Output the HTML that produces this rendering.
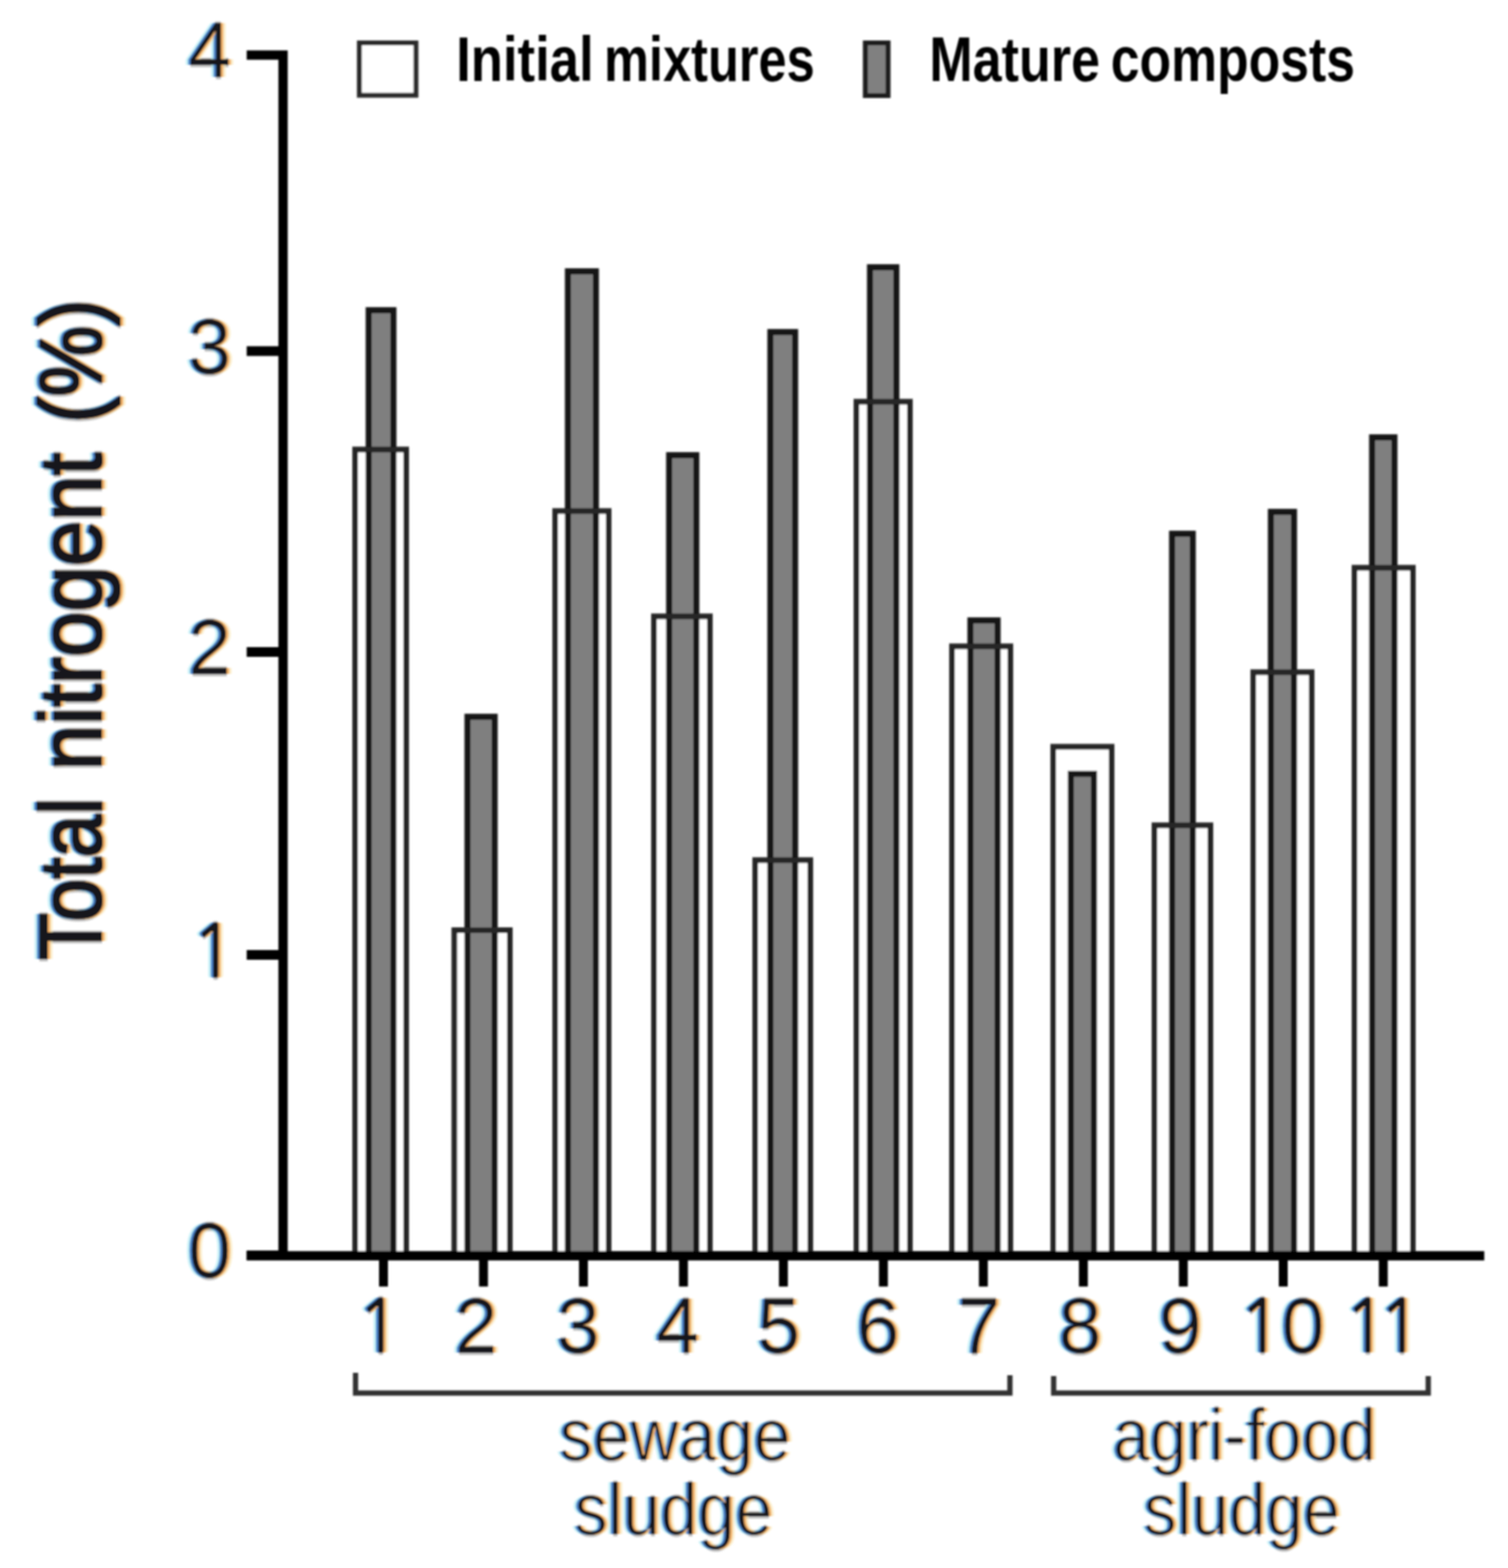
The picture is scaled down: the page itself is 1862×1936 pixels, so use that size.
<!DOCTYPE html>
<html><head><meta charset="utf-8"><title>Total nitrogen chart</title>
<style>
html,body{margin:0;padding:0;background:#fff;}
svg{display:block;}
text{font-family:"Liberation Sans",Arial,sans-serif;fill:#111;}
.tl{font-size:97px;}
.yt{font-size:109px;}
.lg{font-size:77px;font-weight:bold;fill:#000;}
.gl{font-size:91px;}
.n1{font-family:NanumGothic,"Liberation Sans",sans-serif;font-size:89px;stroke:#111;stroke-width:2.2px;}
</style></head>
<body>
<svg width="1862" height="1936" viewBox="0 0 1862 1936">
<defs>
<filter id="ct" x="0" y="0" width="1862" height="1936" filterUnits="userSpaceOnUse" color-interpolation-filters="sRGB">
<feMorphology in="SourceAlpha" operator="erode" radius="1" result="core"/>
<feOffset in="core" dx="-3" result="o1"/>
<feOffset in="core" dx="-6" result="o2"/>
<feOffset in="core" dx="3" result="o3"/>
<feOffset in="core" dx="6" result="o4"/>
<feOffset in="core" dy="-2.5" result="o5"/>
<feOffset in="core" dy="2.5" result="o6"/>
<feFlood flood-color="#9ee6f2" flood-opacity="0.55"/><feComposite in2="o2" operator="in" result="c2"/>
<feFlood flood-color="#f8e2a8" flood-opacity="0.55"/><feComposite in2="o4" operator="in" result="c4"/>
<feFlood flood-color="#808080" flood-opacity="0.5"/><feComposite in2="o5" operator="in" result="c5"/>
<feFlood flood-color="#808080" flood-opacity="0.5"/><feComposite in2="o6" operator="in" result="c6"/>
<feFlood flood-color="#3a74c4" flood-opacity="0.85"/><feComposite in2="o1" operator="in" result="c1"/>
<feFlood flood-color="#f0ad62" flood-opacity="0.95"/><feComposite in2="o3" operator="in" result="c3"/>
<feFlood flood-color="#16121a"/><feComposite in2="core" operator="in" result="cc"/>
<feMerge><feMergeNode in="c5"/><feMergeNode in="c6"/><feMergeNode in="c2"/><feMergeNode in="c4"/><feMergeNode in="c1"/><feMergeNode in="c3"/><feMergeNode in="cc"/></feMerge>
</filter>
<filter id="ctd" x="0" y="0" width="1862" height="1936" filterUnits="userSpaceOnUse" color-interpolation-filters="sRGB">
<feMorphology in="SourceAlpha" operator="erode" radius="1 0" result="core"/>
<feOffset in="core" dx="-3" result="o1"/>
<feOffset in="core" dx="-6" result="o2"/>
<feOffset in="core" dx="3" result="o3"/>
<feOffset in="core" dx="6" result="o4"/>
<feOffset in="core" dy="-2.5" result="o5"/>
<feOffset in="core" dy="2.5" result="o6"/>
<feFlood flood-color="#9ee6f2" flood-opacity="0.55"/><feComposite in2="o2" operator="in" result="c2"/>
<feFlood flood-color="#f8e2a8" flood-opacity="0.55"/><feComposite in2="o4" operator="in" result="c4"/>
<feFlood flood-color="#808080" flood-opacity="0.5"/><feComposite in2="o5" operator="in" result="c5"/>
<feFlood flood-color="#808080" flood-opacity="0.5"/><feComposite in2="o6" operator="in" result="c6"/>
<feFlood flood-color="#3a74c4" flood-opacity="0.85"/><feComposite in2="o1" operator="in" result="c1"/>
<feFlood flood-color="#f0ad62" flood-opacity="0.95"/><feComposite in2="o3" operator="in" result="c3"/>
<feFlood flood-color="#16121a"/><feComposite in2="core" operator="in" result="cc"/>
<feMerge><feMergeNode in="c5"/><feMergeNode in="c6"/><feMergeNode in="c2"/><feMergeNode in="c4"/><feMergeNode in="c1"/><feMergeNode in="c3"/><feMergeNode in="cc"/></feMerge>
</filter>
<filter id="cty" x="0" y="0" width="1862" height="1936" filterUnits="userSpaceOnUse" color-interpolation-filters="sRGB">
<feMorphology in="SourceAlpha" operator="dilate" radius="1" result="core"/>
<feOffset in="core" dx="-3" result="o1"/>
<feOffset in="core" dx="-6" result="o2"/>
<feOffset in="core" dx="3" result="o3"/>
<feOffset in="core" dx="6" result="o4"/>
<feOffset in="core" dy="-2.5" result="o5"/>
<feOffset in="core" dy="2.5" result="o6"/>
<feFlood flood-color="#9ee6f2" flood-opacity="0.55"/><feComposite in2="o2" operator="in" result="c2"/>
<feFlood flood-color="#f8e2a8" flood-opacity="0.55"/><feComposite in2="o4" operator="in" result="c4"/>
<feFlood flood-color="#808080" flood-opacity="0.5"/><feComposite in2="o5" operator="in" result="c5"/>
<feFlood flood-color="#808080" flood-opacity="0.5"/><feComposite in2="o6" operator="in" result="c6"/>
<feFlood flood-color="#3a74c4" flood-opacity="0.85"/><feComposite in2="o1" operator="in" result="c1"/>
<feFlood flood-color="#f0ad62" flood-opacity="0.95"/><feComposite in2="o3" operator="in" result="c3"/>
<feFlood flood-color="#16121a"/><feComposite in2="core" operator="in" result="cc"/>
<feMerge><feMergeNode in="c5"/><feMergeNode in="c6"/><feMergeNode in="c2"/><feMergeNode in="c4"/><feMergeNode in="c1"/><feMergeNode in="c3"/><feMergeNode in="cc"/></feMerge>
</filter>
<filter id="soft" x="0" y="0" width="1862" height="1936" filterUnits="userSpaceOnUse"><feGaussianBlur stdDeviation="1.2"/></filter></defs>
<rect width="1862" height="1936" fill="#fff"/>
<g filter="url(#soft)">
<rect x="438.5" y="555" width="63" height="995" fill="#fff"/>
<rect x="455.25" y="383" width="30.5" height="1167" fill="#7f7f7f" stroke="#181818" stroke-width="7.5"/>
<rect x="438.5" y="555" width="63" height="995" fill="none" stroke="#262626" stroke-width="7"/>
<rect x="561.0" y="1148.5" width="68.5" height="401.5" fill="#fff"/>
<rect x="577.25" y="885" width="33.5" height="665" fill="#7f7f7f" stroke="#181818" stroke-width="7.5"/>
<rect x="561.0" y="1148.5" width="68.5" height="401.5" fill="none" stroke="#262626" stroke-width="7"/>
<rect x="685.5" y="631" width="66" height="919" fill="#fff"/>
<rect x="701.25" y="335" width="34.5" height="1215" fill="#7f7f7f" stroke="#181818" stroke-width="7.5"/>
<rect x="685.5" y="631" width="66" height="919" fill="none" stroke="#262626" stroke-width="7"/>
<rect x="807.5" y="761" width="69" height="789" fill="#fff"/>
<rect x="826.25" y="562" width="33.5" height="988" fill="#7f7f7f" stroke="#181818" stroke-width="7.5"/>
<rect x="807.5" y="761" width="69" height="789" fill="none" stroke="#262626" stroke-width="7"/>
<rect x="932.5" y="1062" width="68" height="488" fill="#fff"/>
<rect x="951.25" y="410" width="30.5" height="1140" fill="#7f7f7f" stroke="#181818" stroke-width="7.5"/>
<rect x="932.5" y="1062" width="68" height="488" fill="none" stroke="#262626" stroke-width="7"/>
<rect x="1057.5" y="496" width="66" height="1054" fill="#fff"/>
<rect x="1074.25" y="330" width="32.5" height="1220" fill="#7f7f7f" stroke="#181818" stroke-width="7.5"/>
<rect x="1057.5" y="496" width="66" height="1054" fill="none" stroke="#262626" stroke-width="7"/>
<rect x="1175.5" y="798" width="72" height="752" fill="#fff"/>
<rect x="1198.25" y="766" width="33.5" height="784" fill="#7f7f7f" stroke="#181818" stroke-width="7.5"/>
<rect x="1175.5" y="798" width="72" height="752" fill="none" stroke="#262626" stroke-width="7"/>
<rect x="1300.5" y="922" width="72" height="628" fill="#fff"/>
<rect x="1322.25" y="955.5" width="28.5" height="594.5" fill="#7f7f7f" stroke="#181818" stroke-width="7.5"/>
<rect x="1300.5" y="922" width="72" height="628" fill="none" stroke="#262626" stroke-width="7"/>
<rect x="1425.5" y="1019" width="69" height="531" fill="#fff"/>
<rect x="1447.25" y="659" width="25.5" height="891" fill="#7f7f7f" stroke="#181818" stroke-width="7.5"/>
<rect x="1425.5" y="1019" width="69" height="531" fill="none" stroke="#262626" stroke-width="7"/>
<rect x="1547.5" y="830" width="72" height="720" fill="#fff"/>
<rect x="1569.25" y="632" width="28.5" height="918" fill="#7f7f7f" stroke="#181818" stroke-width="7.5"/>
<rect x="1547.5" y="830" width="72" height="720" fill="none" stroke="#262626" stroke-width="7"/>
<rect x="1672.5" y="701" width="72" height="849" fill="#fff"/>
<rect x="1694.25" y="540" width="27.5" height="1010" fill="#7f7f7f" stroke="#181818" stroke-width="7.5"/>
<rect x="1672.5" y="701" width="72" height="849" fill="none" stroke="#262626" stroke-width="7"/>
<path d="M304.6 68 H349.5 V1550" fill="none" stroke="#000" stroke-width="11.5" stroke-linejoin="miter"/>
<line x1="304.6" y1="1550" x2="350" y2="1550" stroke="#000" stroke-width="12"/>
<line x1="304.6" y1="1179" x2="350" y2="1179" stroke="#000" stroke-width="12"/>
<line x1="304.6" y1="805" x2="350" y2="805" stroke="#000" stroke-width="12"/>
<line x1="304.6" y1="433.5" x2="350" y2="433.5" stroke="#000" stroke-width="12"/>
<line x1="304.6" y1="1550.5" x2="1832.7" y2="1550.5" stroke="#000" stroke-width="11.5"/>
<line x1="473.5" y1="1550" x2="473.5" y2="1588.5" stroke="#000" stroke-width="11"/>
<line x1="597.0" y1="1550" x2="597.0" y2="1588.5" stroke="#000" stroke-width="11"/>
<line x1="720.4" y1="1550" x2="720.4" y2="1588.5" stroke="#000" stroke-width="11"/>
<line x1="843.9" y1="1550" x2="843.9" y2="1588.5" stroke="#000" stroke-width="11"/>
<line x1="967.3" y1="1550" x2="967.3" y2="1588.5" stroke="#000" stroke-width="11"/>
<line x1="1090.8" y1="1550" x2="1090.8" y2="1588.5" stroke="#000" stroke-width="11"/>
<line x1="1214.2" y1="1550" x2="1214.2" y2="1588.5" stroke="#000" stroke-width="11"/>
<line x1="1337.7" y1="1550" x2="1337.7" y2="1588.5" stroke="#000" stroke-width="11"/>
<line x1="1461.1" y1="1550" x2="1461.1" y2="1588.5" stroke="#000" stroke-width="11"/>
<line x1="1584.5" y1="1550" x2="1584.5" y2="1588.5" stroke="#000" stroke-width="11"/>
<line x1="1708.0" y1="1550" x2="1708.0" y2="1588.5" stroke="#000" stroke-width="11"/>
<rect x="443.7" y="53" width="69.9" height="64.6" fill="#fff" stroke="#2a2a2a" stroke-width="6"/>
<rect x="1068.5" y="53" width="28" height="65" fill="#808080" stroke="#1c1c1c" stroke-width="6"/>
<text y="100" class="lg"><tspan x="563.2" textLength="169.8" lengthAdjust="spacingAndGlyphs">Initial</tspan> <tspan x="745.8" textLength="260.2" lengthAdjust="spacingAndGlyphs">mixtures</tspan></text>
<text y="100" class="lg"><tspan x="1147.6" textLength="210.6" lengthAdjust="spacingAndGlyphs">Mature</tspan> <tspan x="1371.6" textLength="301.4" lengthAdjust="spacingAndGlyphs">composts</tspan></text>
<path d="M439 1695 V1720 H1247 V1698" fill="none" stroke="#333" stroke-width="6.5"/>
<path d="M1301 1699 V1720 H1763.5 V1699" fill="none" stroke="#333" stroke-width="6.5"/>
<g filter="url(#ct)">
<text x="690.5" y="1803" class="gl" textLength="286.1" lengthAdjust="spacingAndGlyphs">sewage</text>
<text x="708.9" y="1895" class="gl" textLength="245.3" lengthAdjust="spacingAndGlyphs">sludge</text>
<text x="1374.0" y="1803" class="gl" textLength="325.3" lengthAdjust="spacingAndGlyphs">agri-food</text>
<text x="1412.1" y="1895" class="gl" textLength="242.8" lengthAdjust="spacingAndGlyphs">sludge</text>
</g>
<g filter="url(#ctd)">
<text x="286" y="1577" text-anchor="end" class="tl">0</text>
<text x="236.4" y="1205.5" class="n1">1</text>
<text x="286" y="832" text-anchor="end" class="tl">2</text>
<text x="286" y="460.5" text-anchor="end" class="tl">3</text>
<text x="286" y="95" text-anchor="end" class="tl">4</text>
<text x="440.4" y="1669" class="n1">1</text>
<text x="587.9" y="1670" text-anchor="middle" class="tl">2</text>
<text x="714" y="1670" text-anchor="middle" class="tl">3</text>
<text x="836.8" y="1670" text-anchor="middle" class="tl">4</text>
<text x="961.8" y="1670" text-anchor="middle" class="tl">5</text>
<text x="1084.3" y="1670" text-anchor="middle" class="tl">6</text>
<text x="1208.8" y="1670" text-anchor="middle" class="tl">7</text>
<text x="1333.8" y="1670" text-anchor="middle" class="tl">8</text>
<text x="1457.5" y="1670" text-anchor="middle" class="tl">9</text>
<text y="1670" class="tl"><tspan x="1529.2" dy="-1" class="n1">1</tspan><tspan x="1609" dy="1" text-anchor="middle">0</tspan></text>
<text y="1669" class="n1"><tspan x="1659.2">1</tspan><tspan x="1701.6">1</tspan></text>
</g>
<g filter="url(#cty)">
<text transform="translate(124.5 1190) rotate(-90)" class="yt"><tspan x="4.8" textLength="200.3" lengthAdjust="spacingAndGlyphs">Total</tspan> <tspan x="238.9" textLength="392.2" lengthAdjust="spacingAndGlyphs">nitrogent</tspan> <tspan x="667.7" textLength="152.7" lengthAdjust="spacingAndGlyphs">(%)</tspan></text>
</g>
</g>
</svg>
</body></html>
